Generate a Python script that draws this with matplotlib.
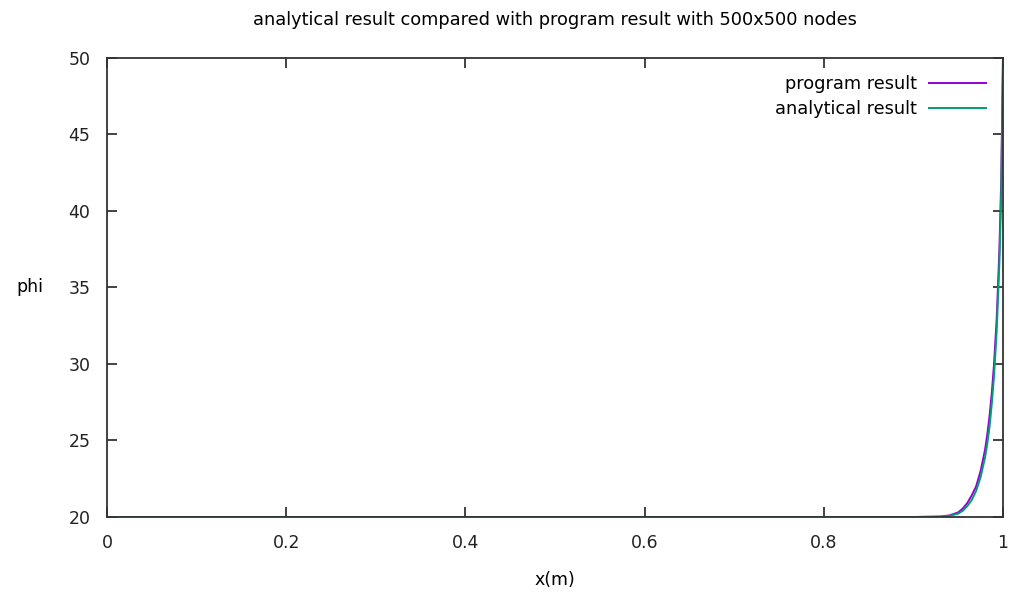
import matplotlib.pyplot as plt

# lecturas de la figura
x_prog = [0.0, 0.2, 0.4, 0.6, 0.8, 0.9, 0.93, 0.94, 0.95, 0.955, 0.96, 0.965, 0.97, 0.975,
          0.98, 0.9825, 0.985, 0.9875, 0.99, 0.993, 0.996, 0.998, 1.0]
phi_prog = [20.0, 20.0, 20.0, 20.0, 20.0, 20.0, 20.03, 20.1, 20.3, 20.55, 20.9, 21.4, 22.0, 23.0,
            24.4, 25.4, 26.6, 28.1, 30.0, 33.0, 37.5, 42.0, 50.0]

x_anal = [0.0, 0.2, 0.4, 0.6, 0.8, 0.9, 0.93, 0.94, 0.95, 0.955, 0.96, 0.965, 0.97, 0.975,
          0.98, 0.9825, 0.985, 0.9875, 0.99, 0.993, 0.996, 0.998, 1.0]
phi_anal = [20.0, 20.0, 20.0, 20.0, 20.0, 20.0, 20.02, 20.07, 20.22, 20.4, 20.7, 21.1, 21.7, 22.6,
            23.9, 24.8, 25.9, 27.4, 29.2, 32.2, 36.6, 41.0, 50.0]

xticks = [0, 0.2, 0.4, 0.6, 0.8, 1]
yticks = [20, 25, 30, 35, 40, 45, 50]

plt.rcParams['font.family'] = 'DejaVu Sans'
fig = plt.figure(figsize=(10.12, 5.97), dpi=100)
ax = fig.add_axes([0.1057, 0.134, 0.8854, 0.769])

ax.plot(x_prog, phi_prog, color='#9400D3', lw=1.4, label='program result')
ax.plot(x_anal, phi_anal, color='#009E73', lw=1.4, label='analytical result')

ax.set_xlim(0, 1)
ax.set_ylim(20, 50)
ax.set_xticks(xticks)
ax.set_xticklabels(['0', '0.2', '0.4', '0.6', '0.8', '1'])
ax.set_yticks(yticks)
ax.tick_params(direction='in', length=7, width=1.2, top=True, right=True,
               labelsize=12.5, pad=12, colors='#222222')
ax.tick_params(axis='y', pad=12)
for s in ax.spines.values():
    s.set_linewidth(1.3)
    s.set_color('#333333')

ax.set_xlabel('x(m)', fontsize=12.5, labelpad=14)
ax.set_ylabel('phi', fontsize=12.5, rotation=0, labelpad=28, va='center')
ax.set_title('analytical result compared with program result with 500x500 nodes',
             fontsize=12.8, pad=24)

ax.legend(loc='upper right', frameon=False, markerfirst=False, fontsize=12.8,
          handlelength=3.2, labelspacing=0.4, borderaxespad=0.55, handletextpad=0.7)

plt.savefig('out.png')
